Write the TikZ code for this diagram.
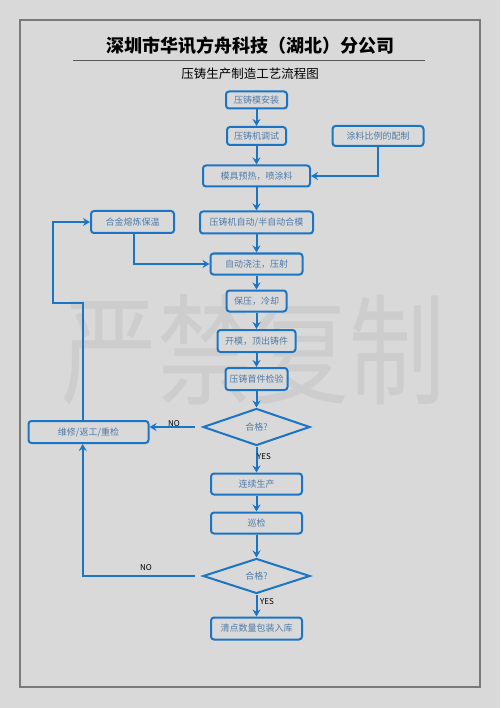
\documentclass[tikz,border=0pt]{standalone}
\usepackage{fontspec}
\setmainfont{Noto Sans CJK SC}
\usetikzlibrary{arrows.meta,shapes.geometric,calc}
\definecolor{bgc}{HTML}{D9D9D9}
\definecolor{bluel}{HTML}{1C74C4}
\definecolor{txtc}{HTML}{4F7BA8}
\definecolor{wmc}{HTML}{CDCDCD}
\definecolor{framec}{HTML}{7A7A7A}
\begin{document}
\begin{tikzpicture}[x=1pt,y=-1pt,
  box/.style={draw=bluel,fill=bgc,line width=2pt,rounded corners=3pt,inner sep=0pt,
    text=txtc,font=\fontsize{9}{10}\selectfont},
  dia/.style={draw=bluel,fill=bgc,line width=2pt,diamond,inner sep=0pt,text=txtc,
    font=\fontsize{9}{10}\selectfont},
  arr/.style={draw=bluel,line width=2pt,-{Stealth[length=7pt,width=8pt]}},
  lbl/.style={font=\fontsize{8}{9}\selectfont,text=black,inner sep=0pt}]
\useasboundingbox (0,0) rectangle (500,708);
\fill[bgc] (0,0) rectangle (500,708);
\draw[framec,line width=1.5pt] (20,20) rectangle (480,687);
% watermark
\node[text=wmc,inner sep=0pt,font=\fontsize{96}{100}\selectfont,yscale=1.25] (wm) at (253,350) {严禁复制};
% title
\node[font=\fontsize{18}{20}\selectfont\bfseries,inner sep=0pt] (title) at (250,46) {深圳市华讯方舟科技（湖北）分公司};
\draw[black!65,line width=1pt] (73,61) -- (425,61);
\node[font=\fontsize{12.5}{14}\selectfont,inner sep=0pt] (sub) at (250,74) {压铸生产制造工艺流程图};
% boxes
\node[box,minimum width=61pt,minimum height=17pt] (b1) at (256.5,100) {压铸模安装};
\node[box,minimum width=59pt,minimum height=18pt] (b2) at (256.5,136) {压铸机调试};
\node[box,minimum width=91pt,minimum height=20pt] (b3) at (378,136) {涂料比例的配制};
\node[box,minimum width=107pt,minimum height=21pt] (b4) at (256.5,176) {模具预热，喷涂料};
\node[box,minimum width=83pt,minimum height=22pt] (b5) at (132.5,222) {合金熔炼保温};
\node[box,minimum width=113pt,minimum height=22pt] (b6) at (256.5,222.5) {压铸机自动/半自动合模};
\node[box,minimum width=92pt,minimum height=21pt] (b7) at (256.5,264) {自动浇注，压射};
\node[box,minimum width=60pt,minimum height=21pt] (b8) at (256.5,301) {保压，冷却};
\node[box,minimum width=78pt,minimum height=22pt] (b9) at (256.5,341) {开模，顶出铸件};
\node[box,minimum width=62pt,minimum height=22pt] (b10) at (256.5,379) {压铸首件检验};
\node[dia,minimum width=107pt,minimum height=37pt] (d1) at (256.5,427) {合格?};
\node[box,minimum width=120pt,minimum height=22pt] (b12) at (88.5,432) {维修/返工/重检};
\node[box,minimum width=91pt,minimum height=21pt] (b13) at (256.5,484) {连续生产};
\node[box,minimum width=91pt,minimum height=21pt] (b14) at (256.5,523) {巡检};
\node[dia,minimum width=107pt,minimum height=35pt] (d2) at (256.5,576) {合格?};
\node[box,minimum width=91pt,minimum height=22pt] (b16) at (256.5,628.5) {清点数量包装入库};
% coordinates
\coordinate (c1) at (82.7,576);
\coordinate (c2) at (82.7,302.7);
\coordinate (c3) at (53.3,302.7);
% connectors
\draw[arr] (b1) -- (b2);
\draw[arr] (b2) -- (b4);
\draw[arr] (b3.south) |- (b4.east);
\draw[arr] (b4) -- (b6);
\draw[arr] (b6) -- (b7);
\draw[arr] (b5.south -| 134,0) |- (b7.west);
\draw[arr] (b7) -- (b8);
\draw[arr] (b8) -- (b9);
\draw[arr] (b9) -- (b10);
\draw[arr] (b10) -- (d1);
\draw[arr,shorten <=7pt] (d1.west) -- (b12.east |- d1.west);
\node[lbl] (no1) at (174,424) {NO};
\draw[arr] (d1) -- (b13);
\node[lbl] (yes1) at (264,456.5) {YES};
\draw[arr] (b13) -- (b14);
\draw[arr] (b14) -- (d2);
\draw[arr,shorten <=7pt] (d2.west) -- (c1) -- (c1 |- b12.south);
\node[lbl] (no2) at (146,568) {NO};
\draw[arr] (d2) -- (b16);
\node[lbl] (yes2) at (267,601.5) {YES};
\draw[arr] (c2 |- b12.north) -- (c2) -- (c3) -- (c3 |- b5.west) -- (b5.west);
\end{tikzpicture}
\end{document}
